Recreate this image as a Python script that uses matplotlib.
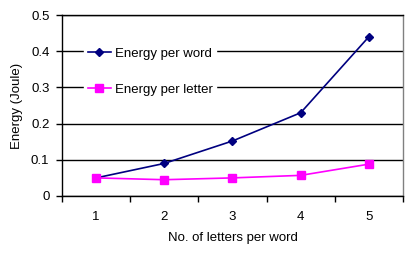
import numpy as np
import matplotlib.pyplot as plt

plt.rcParams['font.family'] = ['Liberation Sans', 'DejaVu Sans']

letters = [1, 2, 3, 4, 5]
energy_word = [0.05, 0.09, 0.152, 0.23, 0.44]
energy_letter = [0.05, 0.045, 0.05, 0.057, 0.088]

fs = 9.5

fig = plt.figure(figsize=(4.14, 2.54), dpi=100)
ax = fig.add_axes([62 / 414, 1 - 196 / 254, 341 / 414, 181 / 254])

x = np.arange(len(letters))
ax.plot(x, energy_word, color='#000080', marker='D', markersize=4.5, lw=1.2,
        label='Energy per word')
ax.plot(x, energy_letter, color='#FF00FF', marker='s', markersize=6, lw=1.2,
        label='Energy per letter')

ax.set_xlim(-0.5, len(letters) - 0.5)
ax.set_ylim(0, 0.5)
ax.set_yticks([0, 0.1, 0.2, 0.3, 0.4, 0.5])
ax.set_yticklabels(['0', '0.1', '0.2', '0.3', '0.4', '0.5'])
ax.set_xticks(x)
ax.set_xticklabels([str(v) for v in letters])
ax.set_xticks(np.arange(-0.5, len(letters)), minor=True)
ax.tick_params(axis='x', which='major', length=0, pad=11)
ax.tick_params(axis='x', which='minor', length=4, width=1, direction='out')
ax.tick_params(axis='y', length=4, width=1, direction='out', pad=5)
ax.tick_params(labelsize=fs)
ax.yaxis.grid(True, color='black', lw=1)
ax.set_axisbelow(True)
for s in ax.spines.values():
    s.set_linewidth(1)
ax.spines['right'].set_color('#808080')

ax.set_xlabel('No. of letters per word', fontsize=fs, labelpad=6)
ax.set_ylabel('Energy (Joule)', fontsize=fs, labelpad=6)

leg = ax.legend(loc='upper left', bbox_to_anchor=(0.044, 0.877), frameon=True,
                fontsize=fs, handlelength=1.75, labelspacing=1.8,
                borderpad=0.3, handletextpad=0.3)
leg.get_frame().set_edgecolor('white')
leg.get_frame().set_facecolor('white')
leg.get_frame().set_alpha(1)
leg.get_frame().set_boxstyle('square', pad=0)

fig.savefig('out.png', dpi=100)
